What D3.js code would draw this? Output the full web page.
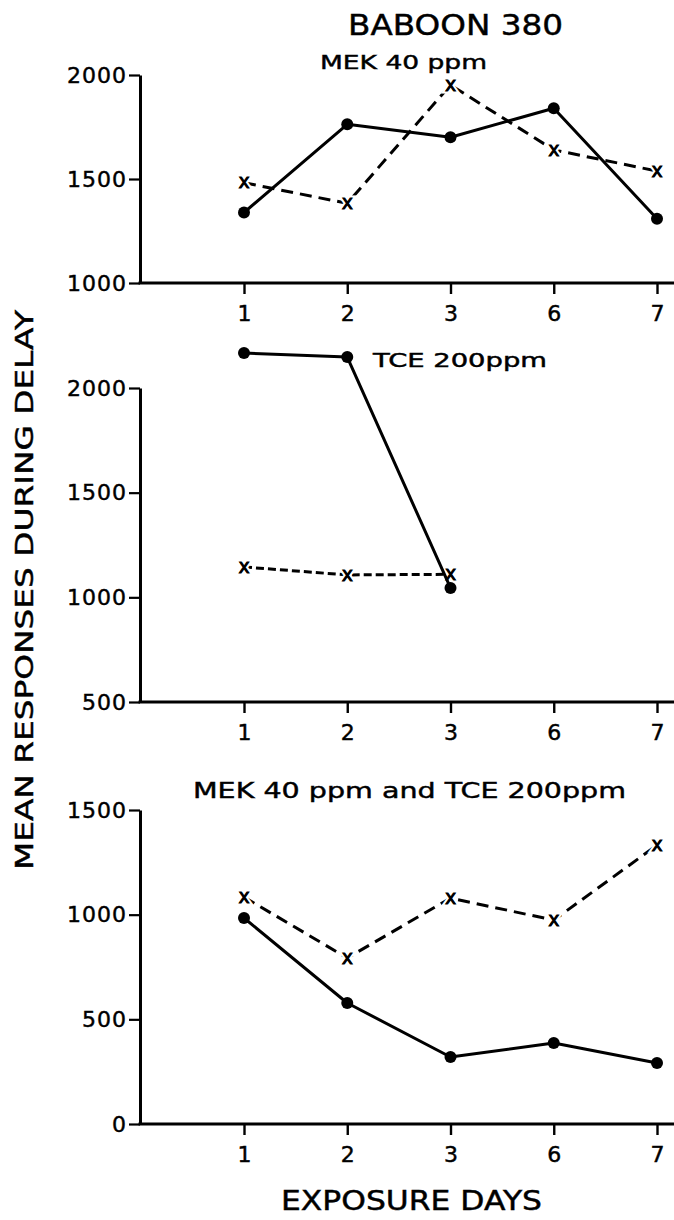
<!DOCTYPE html>
<html><head><meta charset="utf-8">
<script src="https://cdn.jsdelivr.net/npm/d3@7"></script>
<style>
html,body{margin:0;padding:0;background:#fff;}
svg{display:block;font-family:"DejaVu Sans",sans-serif;}
</style></head>
<body>
<svg id="c" width="674" height="1220"></svg>
<script>
// ---- data ----
const days = ["1","2","3","6","7"];
const mekSolid  = [1339, 1763, 1701, 1840, 1309];
const mekDashed = [1482, 1383, 1952, 1640, 1538];
const tceDays   = ["1","2","3"];
const tceSolid  = [2167, 2148, 1045];
const tceDashed = [1145, 1107, 1110];
const bothSolid  = [984, 578, 320, 387, 291];
const bothDashed = [1084, 793, 1079, 974, 1332];
const ticksTop = [1000, 1500, 2000];
const ticksMid = [500, 1000, 1500, 2000];
const ticksBot = [0, 500, 1000, 1500];
const title = "BABOON 380";
const yLabel = "MEAN RESPONSES DURING DELAY";
const xLabel = "EXPOSURE DAYS";

// ---- layout ----
const svg = d3.select("#c");
const axisX = 140, rightEdge = 674;
const x = d3.scalePoint().domain(days).range([244, 657]);

const panels = [
  {domain:[1000,2000], range:[283,75],  ticks:ticksTop, xd:days,    solid:mekSolid,  dashed:mekDashed,  dash:"12,7"},
  {domain:[500,2000],  range:[702,388], ticks:ticksMid, xd:tceDays, solid:tceSolid,  dashed:tceDashed,  dash:"8,4"},
  {domain:[0,1500],    range:[1124,810],ticks:ticksBot, xd:days,    solid:bothSolid, dashed:bothDashed, dash:"12,7"}
];

const heavy = sel => sel.attr("stroke","#000").attr("stroke-width",0.45);

panels.forEach(p => {
  const y = d3.scaleLinear().domain(p.domain).range(p.range);
  const g = svg.append("g");
  // y axis
  const ya = g.append("g").attr("transform",`translate(${axisX},0)`)
    .call(d3.axisLeft(y).tickValues(p.ticks).tickSize(11).tickSizeOuter(0).tickPadding(2).tickFormat(d3.format("d")));
  ya.select(".domain").attr("stroke","#000").attr("stroke-width",3);
  ya.selectAll(".tick line").attr("stroke","#000").attr("stroke-width",2.2);
  ya.selectAll(".tick text").attr("font-size",22).attr("letter-spacing",1).attr("fill","#000")
    .attr("font-family","DejaVu Sans").call(heavy);
  // x axis
  const base = y(p.domain[0]);
  const xa = g.append("g").attr("transform",`translate(0,${base})`)
    .call(d3.axisBottom(x).tickSize(11).tickPadding(11));
  xa.select(".domain").remove();
  xa.selectAll(".tick line").attr("stroke","#000").attr("stroke-width",2.4);
  xa.selectAll(".tick text").attr("font-size",22).attr("fill","#000").attr("font-family","DejaVu Sans").call(heavy);
  g.append("line").attr("x1",axisX-1.5).attr("x2",rightEdge).attr("y1",base).attr("y2",base)
    .attr("stroke","#000").attr("stroke-width",3);

  const line = d3.line().x(d=>x(d.d)).y(d=>y(d.v));
  const sd = p.xd.map((d,i)=>({d, v:p.solid[i]}));
  const dd = p.xd.map((d,i)=>({d, v:p.dashed[i]}));
  // dashed series
  g.append("path").datum(dd).attr("d",line).attr("fill","none").attr("stroke","#000")
    .attr("stroke-width",3).attr("stroke-dasharray",p.dash);
  g.selectAll(".xm").data(dd).join("text").attr("class","xm")
    .attr("x",d=>x(d.d)).attr("y",d=>y(d.v)).attr("text-anchor","middle").attr("dy","0.3em")
    .attr("font-size",19).attr("fill","#000")
    .attr("stroke","#fff").attr("stroke-width",5).attr("paint-order","stroke")
    .text("x");
  g.selectAll(".xm2").data(dd).join("text").attr("class","xm2")
    .attr("x",d=>x(d.d)).attr("y",d=>y(d.v)).attr("text-anchor","middle").attr("dy","0.3em")
    .attr("font-size",19).attr("fill","#000").attr("stroke","#000").attr("stroke-width",0.8)
    .text("x");
  // solid series
  g.append("path").datum(sd).attr("d",line).attr("fill","none").attr("stroke","#000")
    .attr("stroke-width",3).attr("stroke-linejoin","round");
  g.selectAll(".dot").data(sd).join("circle").attr("class","dot")
    .attr("cx",d=>x(d.d)).attr("cy",d=>y(d.v)).attr("r",6).attr("fill","#000");
});

// texts
svg.append("text").attr("x",348).attr("y",35).attr("font-size",29).call(heavy)
  .attr("textLength",215).attr("lengthAdjust","spacingAndGlyphs").text(title);
svg.append("text").attr("x",320).attr("y",69).attr("font-size",20).call(heavy)
  .attr("textLength",167).attr("lengthAdjust","spacingAndGlyphs").text("MEK  40 ppm");
svg.append("text").attr("x",373).attr("y",367).attr("font-size",19).call(heavy)
  .attr("textLength",174).attr("lengthAdjust","spacingAndGlyphs").text("TCE  200ppm");
svg.append("text").attr("x",193).attr("y",798).attr("font-size",22).call(heavy)
  .attr("textLength",433).attr("lengthAdjust","spacingAndGlyphs").text("MEK  40 ppm   and   TCE  200ppm");
svg.append("text").attr("transform","translate(33,590) rotate(-90)").attr("text-anchor","middle")
  .attr("font-size",25).call(heavy).attr("textLength",560).attr("lengthAdjust","spacingAndGlyphs").text(yLabel);
svg.append("text").attr("x",281).attr("y",1210).attr("font-size",26).call(heavy)
  .attr("textLength",261).attr("lengthAdjust","spacingAndGlyphs").text(xLabel);
</script>
</body></html>
